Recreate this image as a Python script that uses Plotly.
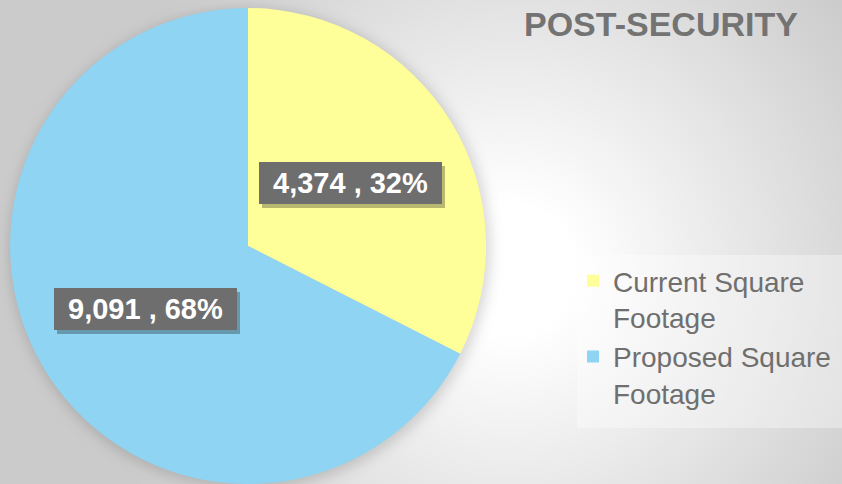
import math
import base64
import plotly.graph_objects as go

# ---- data ----
labels = ["Current Square Footage", "Proposed Square Footage"]
legend_names = ["Current Square<br>Footage", "Proposed Square<br>Footage"]
values = [4374, 9091]
percent_text = ["32%", "68%"]
colors = ["#FFFF99", "#8FD4F2"]
title_text = "POST-SECURITY"

W, H = 842, 484

# pie placement (pixels)
pie_left, pie_right = 10, 486
pie_top, pie_bottom = 8, 484
cx = (pie_left + pie_right) / 2
cy = (pie_top + pie_bottom) / 2
R = (pie_right - pie_left) / 2

# background: radial gradient + soft pie shadow
svg = f'''<svg xmlns="http://www.w3.org/2000/svg" width="{W}" height="{H}">
<defs>
<radialGradient id="g" gradientUnits="userSpaceOnUse" cx="510" cy="270" r="430">
<stop offset="0" stop-color="#ffffff"/>
<stop offset="0.15" stop-color="#ffffff"/>
<stop offset="1" stop-color="#cbcbcb"/>
</radialGradient>
<filter id="b" x="-20%" y="-20%" width="140%" height="140%"><feGaussianBlur stdDeviation="7"/></filter>
</defs>
<rect width="{W}" height="{H}" fill="url(#g)"/>
<circle cx="{cx+2}" cy="{cy+3}" r="{R+2}" fill="#000" fill-opacity="0.16" filter="url(#b)"/>
</svg>'''
src = "data:image/svg+xml;base64," + base64.b64encode(svg.encode()).decode()

fig = go.Figure()
fig.add_trace(go.Pie(
    labels=legend_names,
    values=values,
    marker=dict(colors=colors, line=dict(width=0)),
    sort=False,
    direction="clockwise",
    rotation=0,
    textinfo="none",
    hoverinfo="skip",
    domain=dict(x=[pie_left / W, pie_right / W], y=[1 - pie_bottom / H, 1 - pie_top / H]),
))

# data labels placed at slice mid-angles
total = sum(values)
annotations = []
cum = 0
for v, p in zip(values, percent_text):
    mid = (cum + v / 2) / total * 2 * math.pi
    cum += v
    rr = 0.505 * R
    px = cx + rr * math.sin(mid)
    py = cy - rr * math.cos(mid)
    txt = f"<b>{v:,} , {p}</b>"
    common = dict(xref="paper", yref="paper", x=px / W, y=1 - py / H,
                  xanchor="center", yanchor="middle", showarrow=False,
                  width=177, height=36, borderpad=3, borderwidth=0)
    annotations.append(dict(text=" ", bgcolor="rgba(0,0,0,0.28)", xshift=3, yshift=-4,
                            font=dict(size=28), **common))
    annotations.append(dict(text=txt, bgcolor="#6e6e6e",
                            font=dict(family="Arial, Liberation Sans", size=29, color="white"),
                            **common))

annotations.append(dict(text=f"<b>{title_text}</b>", xref="paper", yref="paper",
                        x=660.5 / W, y=1 - 24 / H, xanchor="center", yanchor="middle",
                        showarrow=False,
                        font=dict(family="Arial, Liberation Sans", size=34, color="#737373")))

fig.update_layout(
    width=W, height=H,
    margin=dict(l=0, r=0, t=0, b=0),
    paper_bgcolor="#e6e6e6",
    plot_bgcolor="rgba(0,0,0,0)",
    images=[dict(source=src, xref="paper", yref="paper", x=0, y=1, sizex=1, sizey=1,
                 xanchor="left", yanchor="top", sizing="stretch", layer="below")],
    shapes=[dict(type="rect", xref="paper", yref="paper", x0=577 / W, x1=1,
                 y0=1 - 428 / H, y1=1 - 255 / H, fillcolor="rgba(255,255,255,0.35)",
                 line=dict(width=0), layer="below")],
    annotations=annotations,
    showlegend=True,
    legend=dict(x=573 / W, y=1 - 256 / H, xanchor="left", yanchor="top",
                bgcolor="rgba(0,0,0,0)", valign="top",
                font=dict(family="Arial, Liberation Sans", size=28, color="#6f6f6f"),
                itemclick=False, itemdoubleclick=False),
)

fig.write_html(
    "out.html",
    config={"displayModeBar": False},
    post_script="document.body.style.margin='0';document.body.style.overflow='hidden';"
                "document.documentElement.style.overflow='hidden';",
)
